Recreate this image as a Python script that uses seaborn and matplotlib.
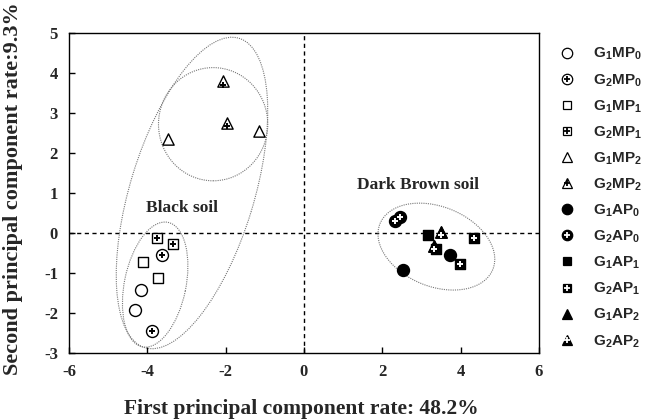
import numpy as np
import pandas as pd
import matplotlib
matplotlib.use('Agg')
import matplotlib.pyplot as plt
import seaborn as sns
from matplotlib.patches import Ellipse
from matplotlib.lines import Line2D
from matplotlib.legend_handler import HandlerTuple

# ---------------- data ----------------
groups = ['G1MP0', 'G2MP0', 'G1MP1', 'G2MP1', 'G1MP2', 'G2MP2',
          'G1AP0', 'G2AP0', 'G1AP1', 'G2AP1', 'G1AP2', 'G2AP2']
legend_text = [r'G$_1$MP$_0$', r'G$_2$MP$_0$', r'G$_1$MP$_1$', r'G$_2$MP$_1$',
               r'G$_1$MP$_2$', r'G$_2$MP$_2$', r'G$_1$AP$_0$', r'G$_2$AP$_0$',
               r'G$_1$AP$_1$', r'G$_2$AP$_1$', r'G$_1$AP$_2$', r'G$_2$AP$_2$']

point_group = ['G1MP0', 'G1MP0', 'G2MP0', 'G2MP0', 'G1MP1', 'G1MP1',
               'G2MP1', 'G2MP1', 'G1MP2', 'G1MP2', 'G2MP2', 'G2MP2',
               'G1AP0', 'G1AP0', 'G2AP0', 'G2AP0', 'G1AP1', 'G1AP1',
               'G2AP1', 'G2AP1', 'G1AP2', 'G1AP2', 'G2AP2', 'G2AP2']
pc1 = [-4.16, -4.31, -3.63, -3.87, -4.12, -3.73,
       -3.76, -3.34, -3.48, -1.15, -2.08, -1.96,
       3.73, 2.52, 2.32, 2.45, 3.17, 3.38,
       4.34, 3.98, 3.50, 3.33, 3.51, 3.33]
pc2 = [-1.42, -1.92, -0.54, -2.44, -0.73, -1.13,
       -0.125, -0.275, 2.35, 2.54, 3.79, 2.75,
       -0.54, -0.92, 0.31, 0.39, -0.04, -0.40,
       -0.13, -0.78, 0.02, -0.33, 0.02, -0.33]

x_ticks = [-6, -4, -2, 0, 2, 4, 6]
y_ticks = [-3, -2, -1, 0, 1, 2, 3, 4, 5]

# confidence ellipses: center x, center y, width, height, angle
ellipses = [(-2.86, 1.00, 8.10, 3.16, 72.6),
            (-2.32, 2.72, 2.79, 2.83, 0.0),
            (-3.80, -1.29, 3.18, 1.57, 78.0),
            (3.38, -0.34, 3.10, 2.00, -21.0)]

group_labels = [('Black soil', -3.12, 0.63), ('Dark Brown soil', 2.91, 1.21)]

df = pd.DataFrame({'pc1': pc1, 'pc2': pc2, 'group': point_group})

# ---------------- style ----------------
sns.set_theme(style='ticks')
plt.rcParams['font.family'] = ['Liberation Serif', 'DejaVu Serif']
plt.rcParams['axes.unicode_minus'] = False
plt.rcParams['mathtext.fontset'] = 'custom'
plt.rcParams['mathtext.rm'] = 'Liberation Sans:bold'
plt.rcParams['mathtext.it'] = 'Liberation Sans:bold'
plt.rcParams['mathtext.bf'] = 'Liberation Sans:bold'
plt.rcParams['mathtext.default'] = 'rm'

shape_of = {'0': 'o', '1': 's', '2': '^'}
size_of = {'o': 74, 's': 52, '^': 66}


def style(g):
    shp = shape_of[g[-1]]
    dark = g[2] == 'A'
    face = 'black' if dark else 'white'
    plus = g[1] == '2'
    pcol = 'white' if dark else 'black'
    return shp, face, plus, pcol


fig = plt.figure(figsize=(6.46, 4.19), dpi=100)
ax = fig.add_axes([69 / 646, 1 - 353 / 419, 470 / 646, 320 / 419])

ax.axhline(0, color='black', lw=1.0, ls=(0, (3, 2.5)), zorder=1)
ax.axvline(0, color='black', lw=1.0, ls=(0, (3, 2.5)), zorder=1)

for (cx, cy, w, h, ang) in ellipses:
    ax.add_patch(Ellipse((cx, cy), w, h, angle=ang, fill=False,
                         edgecolor='#777777', lw=0.8, ls=(0, (1, 1)), zorder=2))

for g in groups:
    sub = df[df['group'] == g]
    shp, face, plus, pcol = style(g)
    sns.scatterplot(data=sub, x='pc1', y='pc2', marker=shp, s=size_of[shp],
                    facecolor=face, edgecolor='black', linewidth=1.0,
                    ax=ax, zorder=3, legend=False)
    if plus:
        dy = -0.08 if shp == '^' else 0.0
        sns.scatterplot(x=sub['pc1'], y=sub['pc2'] + dy, marker='+',
                        s=16 if face == 'white' else 20, color=pcol,
                        linewidth=1.4, ax=ax, zorder=4, legend=False)

for txt, tx, ty in group_labels:
    ax.text(tx, ty, txt, ha='center', va='center', fontsize=12.5,
            fontweight='bold', family='Liberation Serif')

ax.set_xlim(-6, 6)
ax.set_ylim(-3, 5)
ax.set_xticks(x_ticks)
ax.set_yticks(y_ticks)
ax.set_xticklabels([str(t) for t in x_ticks])
ax.set_yticklabels([str(t) for t in y_ticks])
ax.tick_params(direction='in', length=4, width=1, labelsize=12, color='black',
               pad=8)
for lab in ax.get_xticklabels() + ax.get_yticklabels():
    lab.set_fontweight('bold')
for sp in ax.spines.values():
    sp.set_visible(True)
    sp.set_color('black')
    sp.set_linewidth(1.0)

ax.set_xlabel('First principal component rate: 48.2%', fontsize=15.5,
              fontweight='bold')
ax.set_ylabel('Second principal component rate:9.3%', fontsize=16,
              fontweight='bold')
ax.xaxis.set_label_coords(0.495, -0.145)
ax.yaxis.set_label_coords(-0.098, 0.515)

# legend
handles = []
for g in groups:
    shp, face, plus, pcol = style(g)
    ms = {'o': 7.5, 's': 6.0, '^': 7.0}[shp]
    base = Line2D([], [], ls='none', marker=shp, markersize=ms,
                  markerfacecolor=face, markeredgecolor='black',
                  markeredgewidth=0.9)
    if plus:
        p = Line2D([], [], ls='none', marker='+', markersize=4,
                   markeredgecolor=pcol, markeredgewidth=1.3)
        handles.append((base, p))
    else:
        handles.append(base)

fig.legend(handles, legend_text, loc='upper left',
           bbox_to_anchor=(559.5 / 646, 1 - 46 / 419), frameon=False,
           handlelength=1.0, handletextpad=1.2, labelspacing=0.635,
           borderpad=0, borderaxespad=0,
           handler_map={tuple: HandlerTuple(ndivide=1, pad=0)},
           prop={'family': 'Liberation Sans', 'weight': 'bold', 'size': 11})

fig.savefig('out.png', dpi=100)
